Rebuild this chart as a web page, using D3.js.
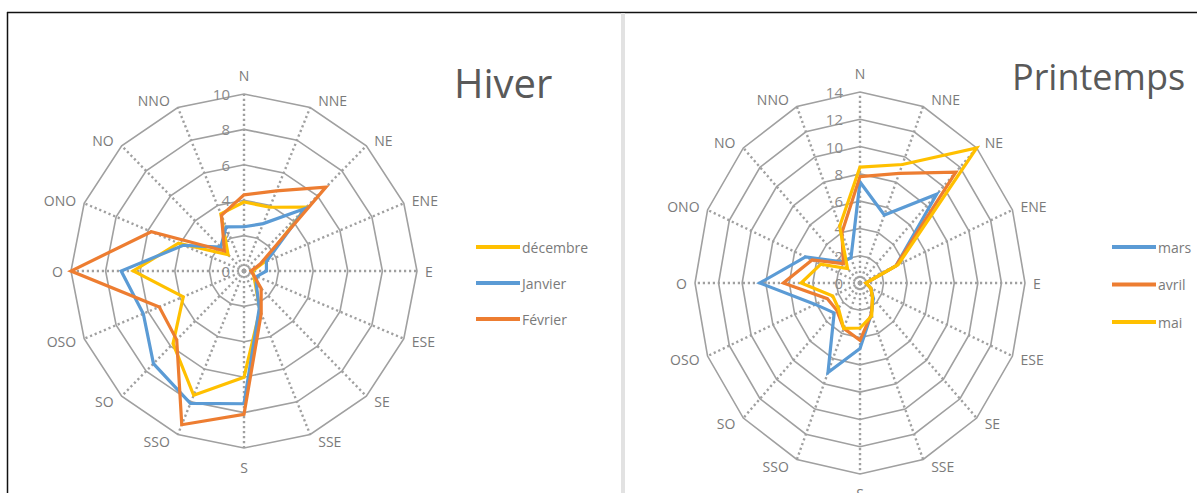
<!DOCTYPE html>
<html>
<head>
<meta charset="utf-8">
<script src="https://cdn.jsdelivr.net/npm/d3@7/dist/d3.min.js"></script>
<style>
  html, body { margin: 0; padding: 0; background: #fff; }
  svg { display: block; }
  text { font-family: "Open Sans", "Noto Sans", sans-serif; }
</style>
</head>
<body>
<svg id="chart" width="1197" height="493"></svg>
<script>
// Wind directions (French compass names), clockwise from north
const directions = ["N", "NNE", "NE", "ENE", "E", "ESE", "SE", "SSE",
                    "S", "SSO", "SO", "OSO", "O", "ONO", "NO", "NNO"];

// Winter
const hiverTitle = "Hiver";
const hiverTicks = [0, 2, 4, 6, 8, 10];
const hiverNames = ["décembre", "Janvier", "Février"];
const decembre = [3.9, 3.9, 5.1, 1.2, 0.5, 0.6, 0.9, 2.4, 6.0, 7.6, 5.8, 3.8, 6.4, 4.1, 1.3, 3.5];
const janvier  = [2.5, 2.9, 5.0, 1.4, 1.3, 0.8, 1.0, 2.3, 7.5, 8.1, 7.4, 6.3, 7.1, 3.8, 1.9, 2.7];
const fevrier  = [4.3, 4.9, 6.7, 1.0, 0.4, 0.6, 1.4, 2.6, 8.1, 9.4, 5.5, 5.3, 10.0, 5.8, 1.6, 3.4];

// Spring
const printempsTitle = "Printemps";
const printempsTicks = [0, 2, 4, 6, 8, 10, 12, 14];
const printempsNames = ["mars", "avril", "mai"];
const mars  = [7.4, 5.4, 9.2, 3.3, 0.5, 1.0, 1.6, 2.5, 4.8, 7.1, 3.1, 4.1, 8.5, 5.0, 2.2, 2.0];
const avril = [7.8, 8.7, 11.5, 3.3, 0.5, 1.0, 1.5, 2.5, 4.2, 3.6, 2.8, 3.0, 6.5, 4.4, 2.0, 4.0];
const mai   = [8.5, 9.4, 14.0, 3.5, 0.5, 1.0, 1.5, 2.6, 3.3, 3.6, 2.6, 2.5, 5.0, 3.6, 1.5, 4.5];

const colors = { yellow: "#FFC000", blue: "#5B9BD5", orange: "#ED7D31" };

const svg = d3.select("#chart");

// Page frame: top rule, left rule, and the grey divider between the two charts
svg.append("line").attr("x1", 7).attr("x2", 1197).attr("y1", 12.5).attr("y2", 12.5)
  .attr("stroke", "#111").attr("stroke-width", 1.5);
svg.append("line").attr("x1", 7.5).attr("x2", 7.5).attr("y1", 12).attr("y2", 493)
  .attr("stroke", "#111").attr("stroke-width", 1.5);
svg.append("rect").attr("x", 621).attr("y", 13).attr("width", 4).attr("height", 480)
  .attr("fill", "#e2e2e2");

function drawRadar(opt) {
  const g = svg.append("g");
  const n = directions.length;
  const maxV = d3.max(opt.ticks);
  const angle = d3.scaleLinear().domain([0, n]).range([0, 2 * Math.PI]);
  const rx = d3.scaleLinear().domain([0, maxV]).range([0, opt.rx]);
  const ry = d3.scaleLinear().domain([0, maxV]).range([0, opt.ry]);
  const px = (v, i) => opt.cx + rx(v) * Math.sin(angle(i));
  const py = (v, i) => opt.cy - ry(v) * Math.cos(angle(i));

  // dotted spokes
  directions.forEach((d, i) => {
    g.append("line")
      .attr("x1", opt.cx).attr("y1", opt.cy)
      .attr("x2", px(maxV, i)).attr("y2", py(maxV, i))
      .attr("stroke", "#a0a0a0").attr("stroke-width", 2.4)
      .attr("stroke-dasharray", "2.2,2.8");
  });

  // solid rings (polygons)
  const ringLine = d3.line().curve(d3.curveLinearClosed);
  opt.ticks.filter(t => t > 0).forEach(t => {
    g.append("path")
      .attr("d", ringLine(directions.map((d, i) => [px(t, i), py(t, i)])))
      .attr("fill", "none").attr("stroke", "#a0a0a0").attr("stroke-width", 1.6);
  });

  // value labels along the north axis
  opt.ticks.forEach(t => {
    g.append("text")
      .attr("x", opt.cx - opt.tickOffset).attr("y", py(t, 0))
      .attr("text-anchor", "end").attr("dominant-baseline", "central")
      .attr("font-size", 15).attr("fill", "#8a8a8a")
      .text(t);
  });

  // direction labels
  directions.forEach((d, i) => {
    const s = Math.sin(angle(i)), c = Math.cos(angle(i));
    const vx = px(maxV, i), vy = py(maxV, i);
    let x, y, anchor;
    if (Math.abs(s) < 0.1) {
      anchor = "middle"; x = vx; y = vy - c * 19;
    } else {
      anchor = s > 0 ? "start" : "end"; x = vx + (s > 0 ? 8 : -8); y = vy - c * 8;
    }
    g.append("text")
      .attr("x", x).attr("y", y)
      .attr("text-anchor", anchor).attr("dominant-baseline", "central")
      .attr("font-size", 14).attr("fill", "#7a7a7a")
      .text(d);
  });

  // series
  const seriesLine = d3.line().curve(d3.curveLinearClosed);
  opt.series.forEach(s => {
    g.append("path")
      .attr("d", seriesLine(s.values.map((v, i) => [px(v, i), py(v, i)])))
      .attr("fill", "none").attr("stroke", s.color).attr("stroke-width", 3.2)
      .attr("stroke-linejoin", "miter");
  });

  // title
  g.append("text")
    .attr("x", opt.titleX).attr("y", opt.titleY)
    .attr("font-size", opt.titleSize).attr("fill", "#595959")
    .text(opt.title);

  // legend
  opt.legendOrder.forEach((s, k) => {
    const ly = opt.legendY + k * opt.legendGap;
    g.append("line")
      .attr("x1", opt.legendX).attr("x2", opt.legendX + 44)
      .attr("y1", ly).attr("y2", ly)
      .attr("stroke", s.color).attr("stroke-width", 4);
    g.append("text")
      .attr("x", opt.legendX + 46).attr("y", ly)
      .attr("dominant-baseline", "central")
      .attr("font-size", 14).attr("fill", "#7a7a7a")
      .text(s.name);
  });
}

const hDec = { name: hiverNames[0], values: decembre, color: colors.yellow };
const hJan = { name: hiverNames[1], values: janvier, color: colors.blue };
const hFev = { name: hiverNames[2], values: fevrier, color: colors.orange };
drawRadar({
  cx: 244, cy: 271, rx: 173, ry: 177, ticks: hiverTicks, tickOffset: 14,
  series: [hDec, hJan, hFev], legendOrder: [hDec, hJan, hFev],
  title: hiverTitle, titleX: 454, titleY: 98, titleSize: 40,
  legendX: 476, legendY: 247, legendGap: 36
});

const pMars = { name: printempsNames[0], values: mars, color: colors.blue };
const pAvril = { name: printempsNames[1], values: avril, color: colors.orange };
const pMai = { name: printempsNames[2], values: mai, color: colors.yellow };
drawRadar({
  cx: 860, cy: 283, rx: 165, ry: 191, ticks: printempsTicks, tickOffset: 17,
  series: [pMars, pAvril, pMai], legendOrder: [pMars, pAvril, pMai],
  title: printempsTitle, titleX: 1012, titleY: 90, titleSize: 36,
  legendX: 1112, legendY: 247, legendGap: 37.5
});
</script>
</body>
</html>
